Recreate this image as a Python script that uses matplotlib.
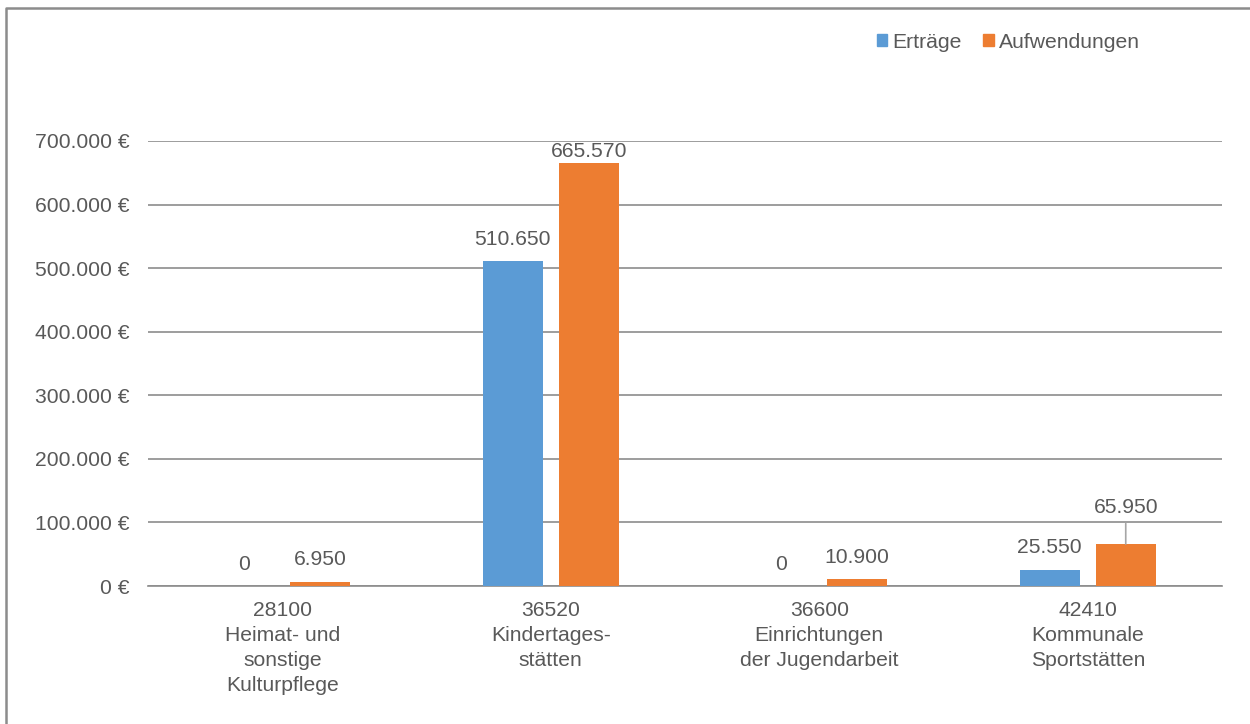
import numpy as np
import matplotlib.pyplot as plt
from matplotlib.patches import Patch
from matplotlib.lines import Line2D
from matplotlib.ticker import FuncFormatter

plt.rcParams['font.family'] = ['Liberation Sans', 'DejaVu Sans']

# data
categories = ['28100\nHeimat- und\nsonstige\nKulturpflege',
              '36520\nKindertages-\nstätten',
              '36600\nEinrichtungen\nder Jugendarbeit',
              '42410\nKommunale\nSportstätten']
ertraege = [0, 510650, 0, 25550]
aufwendungen = [6950, 665570, 10900, 65950]
yticks = [0, 100000, 200000, 300000, 400000, 500000, 600000, 700000]

c_blue = '#5B9BD5'
c_orange = '#ED7D31'
c_text = '#595959'
c_grid = '#8c8c8c'
fs = 15.2

def de_num(v):
    return f'{v:,.0f}'.replace(',', '.')

fig = plt.figure(figsize=(12.5, 7.24), dpi=100)
ax = fig.add_axes([148/1250, 1-586/724, (1222-148)/1250, (586-141)/724])

x = np.arange(len(categories))
w = 0.2235
off = 0.1415
b1 = ax.bar(x - off, ertraege, w, color=c_blue, label='Erträge', zorder=3)
b2 = ax.bar(x + off, aufwendungen, w, color=c_orange, label='Aufwendungen', zorder=3)

ax.set_xlim(-0.5, len(categories) - 0.5)
ax.set_ylim(0, 700000)
ax.set_yticks(yticks)
ax.yaxis.set_major_formatter(FuncFormatter(lambda v, p: de_num(v) + ' €'))
ax.set_xticks(x)
ax.set_xticklabels(categories, linespacing=1.4)
ax.tick_params(axis='y', length=0, pad=13, labelsize=fs, labelcolor=c_text)
ax.tick_params(axis='x', length=0, pad=11, labelsize=fs, labelcolor=c_text)
ax.grid(axis='y', color=c_grid, lw=1.2, zorder=0)
ax.set_axisbelow(True)
for s in ['top', 'right', 'left']:
    ax.spines[s].set_visible(False)
ax.spines['bottom'].set_color(c_grid)
ax.spines['bottom'].set_linewidth(1.2)

# data labels
for bars, vals in [(b1, ertraege), (b2, aufwendungen)]:
    for rect, v in zip(bars, vals):
        cx = rect.get_x() + rect.get_width() / 2
        dy = 22
        if v == 665570:
            dy = 11
        if v == 65950:
            # label moved up with a leader line
            ax.annotate(de_num(v), (cx, v), xytext=(0, 37), textcoords='offset pixels',
                        ha='center', va='center', fontsize=fs, color=c_text,
                        arrowprops=dict(arrowstyle='-', color='#a6a6a6', lw=1.2,
                                        shrinkA=3, shrinkB=0))
            continue
        ax.annotate(de_num(v), (cx, v), xytext=(0, dy), textcoords='offset pixels',
                    ha='center', va='center', fontsize=fs, color=c_text)

handles = [Patch(color=c_blue, label='Erträge'), Patch(color=c_orange, label='Aufwendungen')]
fig.legend(handles=handles, loc='center right', bbox_to_anchor=(1140/1250, 1-42/724),
           ncol=2, frameon=False, fontsize=fs, labelcolor=c_text,
           handlelength=0.5, handleheight=0.5, handletextpad=0.25,
           columnspacing=1.0, borderpad=0, borderaxespad=0)

# chart border (only top and left edges are inside the image)
fig.add_artist(Line2D([6/1250, 6/1250, 1], [0, 1-8/724, 1-8/724],
                      transform=fig.transFigure, color='#8c8c8c', lw=1.8))

fig.savefig('out.png', dpi=100)
